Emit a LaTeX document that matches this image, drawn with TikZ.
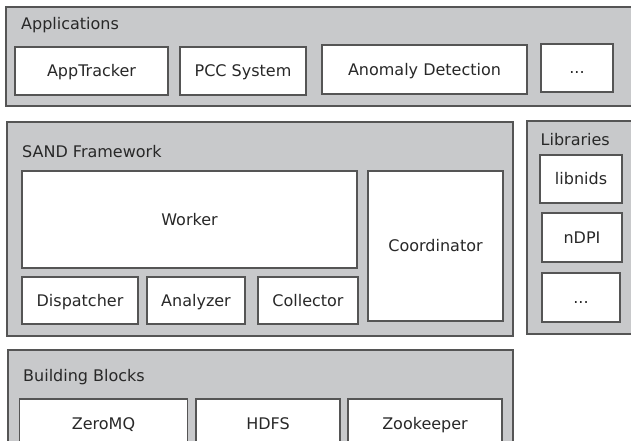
\documentclass[tikz,border=0pt]{standalone}
\usepackage{fontspec}
\setmainfont{DejaVu Sans}
\definecolor{layerfill}{RGB}{200,201,203}
\definecolor{edge}{RGB}{85,85,85}
\definecolor{txt}{RGB}{40,40,40}
\begin{document}
\begin{tikzpicture}[x=1pt,y=-1pt,
  layer/.style={draw=edge,fill=layerfill,line width=1.3pt,inner sep=0pt},
  blk/.style={draw=edge,fill=white,line width=1.1pt,inner sep=0pt,text=txt,
    text height=11.6pt,text depth=0pt,
    font=\fontsize{16}{19}\selectfont},
  ttl/.style={anchor=base west,inner sep=0pt,text=txt,font=\fontsize{16}{19}\selectfont}]
\useasboundingbox (0,0) rectangle (631,441);
\clip (0,0) rectangle (631,441);
% layers
\draw[layer] (6,7) rectangle (640,106);
\draw[layer] (7,122) rectangle (513,336);
\draw[layer] (527,121) rectangle (640,334);
\draw[layer] (8,350) rectangle (513,460);
% layer titles
\node[ttl] (tapp) at (21,30) {Applications};
\node[ttl] (tsand) at (22,157) {SAND Framework};
\node[ttl] (tlib) at (540.5,145) {Libraries};
\node[ttl] (tbb) at (23,381.5) {Building Blocks};
% Applications
\node[blk,minimum width=153pt,minimum height=48pt] (apptracker) at (91.5,71) {AppTracker};
\node[blk,minimum width=126pt,minimum height=48pt] (pcc) at (243,71) {PCC System};
\node[blk,minimum width=205pt,minimum height=49pt] (anomaly) at (424.5,69.5) {Anomaly Detection};
\node[blk,minimum width=72pt,minimum height=48pt] (appdots) at (577,68) {...};
% SAND
\node[blk,minimum width=335pt,minimum height=97pt] (worker) at (189.5,219.5) {Worker};
\node[blk,minimum width=116pt,minimum height=47pt] (dispatcher) at (80,300.5) {Dispatcher};
\node[blk,minimum width=98pt,minimum height=47pt] (analyzer) at (196,300.5) {Analyzer};
\node[blk,minimum width=100pt,minimum height=47pt] (collector) at (308,300.5) {Collector};
\node[blk,minimum width=135pt,minimum height=150pt] (coordinator) at (435.5,246) {Coordinator};
% Libraries
\node[blk,minimum width=82pt,minimum height=48pt] (libnids) at (581,179) {libnids};
\node[blk,minimum width=80pt,minimum height=49pt] (ndpi) at (582,237.5) {nDPI};
\node[blk,minimum width=78pt,minimum height=49pt] (libdots) at (581,297.5) {...};
% Building blocks
\node[blk,minimum width=168pt,minimum height=50pt] (zeromq) at (103.5,424) {ZeroMQ};
\node[blk,minimum width=144pt,minimum height=50pt] (hdfs) at (268,424) {HDFS};
\node[blk,minimum width=154pt,minimum height=50pt] (zookeeper) at (425,424) {Zookeeper};
\end{tikzpicture}
\end{document}
